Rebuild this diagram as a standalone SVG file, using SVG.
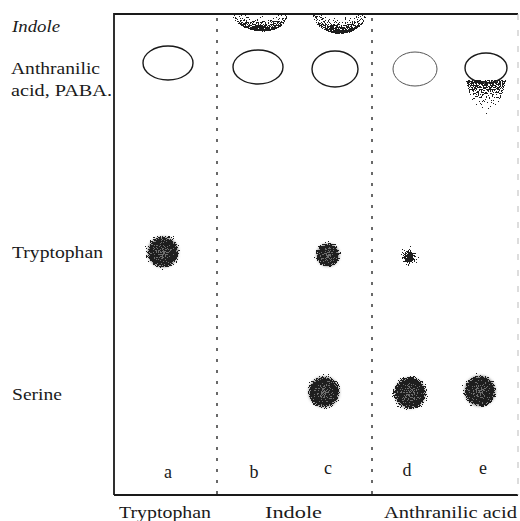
<svg xmlns="http://www.w3.org/2000/svg" width="520" height="521" viewBox="0 0 520 521">
<style>
  .lbl { font-family: "Liberation Serif", "DejaVu Serif", serif; font-size: 17px; fill: #1a1a1a; }
  .let { font-family: "Liberation Serif", "DejaVu Serif", serif; font-size: 18px; fill: #1a1a1a; text-anchor: middle; }
  .frame { fill: none; stroke: #1a1a1a; stroke-width: 1.8; }
  .lane { fill: none; stroke: #1a1a1a; stroke-width: 1.3; stroke-dasharray: 3 8; }
  .oval { fill: none; stroke: #1a1a1a; stroke-width: 1.4; }
  .core { fill: #6e6e6e; filter: url(#soft); }
  .spot { fill: url(#g); filter: url(#stip); }
</style>
<defs>
  <radialGradient id="g">
    <stop offset="0" stop-color="#000" stop-opacity="0.45"/>
    <stop offset="0.6" stop-color="#000" stop-opacity="0.7"/>
    <stop offset="1" stop-color="#000" stop-opacity="0"/>
  </radialGradient>
  <radialGradient id="gf">
    <stop offset="0" stop-color="#000" stop-opacity="0.85"/>
    <stop offset="1" stop-color="#000" stop-opacity="0"/>
  </radialGradient>
  <radialGradient id="gi" cx="0.5" cy="0" r="1" fx="0.5" fy="0">
    <stop offset="0" stop-color="#000" stop-opacity="0.2"/>
    <stop offset="0.75" stop-color="#000" stop-opacity="0.6"/>
    <stop offset="1" stop-color="#000" stop-opacity="0.85"/>
  </radialGradient>
  <linearGradient id="ge" x1="0" y1="0" x2="0" y2="1">
    <stop offset="0" stop-color="#000" stop-opacity="0.6"/>
    <stop offset="1" stop-color="#000" stop-opacity="0.15"/>
  </linearGradient>
  <filter id="stip" x="-20%" y="-20%" width="140%" height="140%" color-interpolation-filters="sRGB">
    <feTurbulence type="fractalNoise" baseFrequency="0.75" numOctaves="2" seed="7" result="n"/>
    <feColorMatrix in="n" type="matrix" values="0 0 0 0 0  0 0 0 0 0  0 0 0 0 0  1 0 0 0 0" result="na"/>
    <feComposite in="SourceAlpha" in2="na" operator="arithmetic" k1="0" k2="1" k3="1" k4="-0.5" result="c"/>
    <feComponentTransfer in="c" result="t"><feFuncA type="discrete" tableValues="0 1"/></feComponentTransfer>
    <feFlood flood-color="#1e1e1e"/>
    <feComposite in2="t" operator="in"/>
  </filter>
  <filter id="soft" x="-20%" y="-20%" width="140%" height="140%">
    <feGaussianBlur stdDeviation="1.5"/>
  </filter>
</defs>

<g id="labels">
  <text class="lbl" x="12" y="32" font-style="italic" textLength="48" lengthAdjust="spacingAndGlyphs">Indole</text>
  <text class="lbl" x="11" y="74" textLength="89" lengthAdjust="spacingAndGlyphs">Anthranilic</text>
  <text class="lbl" x="11" y="96" textLength="101" lengthAdjust="spacingAndGlyphs">acid, PABA.</text>
  <text class="lbl" x="12" y="258" textLength="91" lengthAdjust="spacingAndGlyphs">Tryptophan</text>
  <text class="lbl" x="12" y="400" textLength="50" lengthAdjust="spacingAndGlyphs">Serine</text>
  <text class="lbl" x="119" y="518" textLength="92" lengthAdjust="spacingAndGlyphs">Tryptophan</text>
  <text class="lbl" x="265" y="518" textLength="57" lengthAdjust="spacingAndGlyphs">Indole</text>
  <text class="lbl" x="384" y="518" textLength="133" lengthAdjust="spacingAndGlyphs">Anthranilic acid</text>
</g>

<g id="frame">
  <path class="frame" d="M114,495 L114,14 L518,14"/>
  <path class="frame" d="M114,495 L518,495"/>
  <path d="M518,14 L518,495" fill="none" stroke="#bbb" stroke-width="1" stroke-dasharray="6 10"/>
</g>

<g id="lanes">
  <line class="lane" x1="217" y1="18" x2="217" y2="494"/>
  <line class="lane" x1="372" y1="18" x2="372" y2="494"/>
</g>

<g id="lane-a">
  <ellipse class="oval" cx="168" cy="63" rx="25" ry="17"/>
  <circle class="core" cx="163" cy="252" r="15"/>
  <circle class="spot" cx="163" cy="252" r="21"/>
  <text class="let" x="168" y="478">a</text>
</g>

<g id="lane-b">
  <path d="M232,15 C236,34 284,40 288,15 Z" fill="url(#gi)" filter="url(#stip)"/>
  <ellipse class="oval" cx="258" cy="67" rx="25" ry="17"/>
  <text class="let" x="254" y="478">b</text>
</g>

<g id="lane-c">
  <path d="M312,15 C318,40 362,40 367,15 Z" fill="url(#gi)" filter="url(#stip)"/>
  <ellipse class="oval" cx="335" cy="69" rx="23" ry="18"/>
  <circle class="core" cx="328" cy="255" r="11"/>
  <circle class="spot" cx="328" cy="255" r="16"/>
  <circle class="core" cx="324" cy="392" r="15"/>
  <circle class="spot" cx="324" cy="392" r="21"/>
  <text class="let" x="328" y="474">c</text>
</g>

<g id="lane-d">
  <ellipse cx="415" cy="69" rx="22" ry="17" fill="none" stroke="#555" stroke-width="1"/>
  <circle cx="409" cy="257" r="14" fill="url(#gf)" filter="url(#stip)"/>
  <circle class="core" cx="410" cy="393" r="15"/>
  <circle class="spot" cx="410" cy="393" r="22"/>
  <text class="let" x="407" y="476">d</text>
</g>

<g id="lane-e">
  <path d="M466,80 C468,95 477,112 486,121 C495,112 504,95 506,80 Z" fill="url(#ge)" filter="url(#stip)"/>
  <ellipse class="oval" cx="486" cy="68" rx="21" ry="15"/>
  <circle class="core" cx="480" cy="391" r="15"/>
  <circle class="spot" cx="480" cy="391" r="21"/>
  <text class="let" x="483" y="474">e</text>
</g>
</svg>
